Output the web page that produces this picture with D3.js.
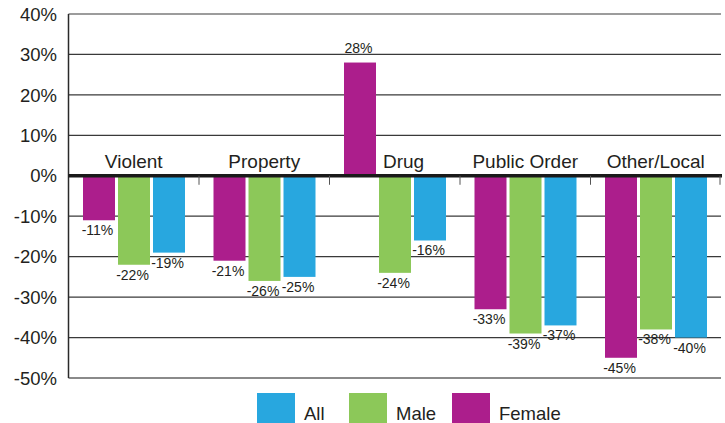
<!DOCTYPE html>
<html>
<head>
<meta charset="utf-8">
<script src="https://cdn.jsdelivr.net/npm/d3@7"></script>
<style>
  body { margin: 0; background: #fff; }
  text { font-family: "Liberation Sans", Arial, sans-serif; fill: #231f20; }
</style>
</head>
<body>
<div id="chart"></div>
<script>
const categories = ['Violent', 'Property', 'Drug', 'Public Order', 'Other/Local'];
const seriesNames = ['Female', 'Male', 'All'];
const female = [-11, -21, 28, -33, -45];
const male = [-22, -26, -24, -39, -38];
const all = [-19, -25, -16, -37, -40];
const yTicks = [40, 30, 20, 10, 0, -10, -20, -30, -40, -50];
const legendOrder = ['All', 'Male', 'Female'];

const colors = { Female: '#ac1e8c', Male: '#8cc859', All: '#28a7df' };
const values = { Female: female, Male: male, All: all };

const width = 725, height = 423;
const margin = { left: 68.5, right: 4, top: 14, bottom: 45 };

const svg = d3.select('#chart')
  .append('svg')
  .attr('width', width)
  .attr('height', height);

const y = d3.scaleLinear()
  .domain([-50, 40])
  .range([height - margin.bottom, margin.top]);

const x0 = d3.scaleBand()
  .domain(categories)
  .range([margin.left, width - margin.right])
  .padding(0);

// bars sit inside each category band with ~14px either side
const x1 = d3.scaleBand()
  .domain(seriesNames)
  .range([14.5, x0.bandwidth() - 14])
  .paddingInner(3 / 35);

// gridlines
svg.append('g')
  .selectAll('line')
  .data(yTicks.filter(d => d !== 0))
  .enter()
  .append('line')
  .attr('x1', margin.left)
  .attr('x2', width - margin.right)
  .attr('y1', d => y(d))
  .attr('y2', d => y(d))
  .attr('stroke', d => d === -50 ? '#8a8a8a' : '#3a3a3a')
  .attr('stroke-width', d => d === -50 ? 2 : 1.2);

// y axis line
svg.append('line')
  .attr('x1', margin.left)
  .attr('x2', margin.left)
  .attr('y1', y(40))
  .attr('y2', y(-50))
  .attr('stroke', '#2a2a2a')
  .attr('stroke-width', 1.5);

// tick labels
svg.append('g')
  .selectAll('text')
  .data(yTicks)
  .enter()
  .append('text')
  .attr('x', 57)
  .attr('y', d => y(d))
  .attr('dy', '0.36em')
  .attr('text-anchor', 'end')
  .style('font-size', '18.5px')
  .text(d => d + '%');

// bars
const groups = svg.append('g')
  .selectAll('g')
  .data(categories)
  .enter()
  .append('g')
  .attr('transform', d => `translate(${x0(d)},0)`);

groups.selectAll('rect')
  .data((c, ci) => seriesNames.map(s => ({ series: s, value: values[s][ci] })))
  .enter()
  .append('rect')
  .attr('x', d => x1(d.series))
  .attr('width', x1.bandwidth())
  .attr('y', d => y(Math.max(0, d.value)))
  .attr('height', d => Math.abs(y(d.value) - y(0)))
  .attr('fill', d => colors[d.series]);

groups.selectAll('text.val')
  .data((c, ci) => seriesNames.map(s => ({ series: s, value: values[s][ci] })))
  .enter()
  .append('text')
  .attr('class', 'val')
  .attr('x', d => x1(d.series) + x1.bandwidth() / 2 - 1.5)
  .attr('y', d => d.value < 0 ? y(d.value) + 15 : y(d.value) - 10)
  .attr('text-anchor', 'middle')
  .style('font-size', '14px')
  .text(d => d.value + '%');

// zero line
svg.append('line')
  .attr('x1', margin.left)
  .attr('x2', width - margin.right + 1)
  .attr('y1', y(0))
  .attr('y2', y(0))
  .attr('stroke', '#1a1a1a')
  .attr('stroke-width', 3.5);

// category boundary ticks
svg.append('g')
  .selectAll('line')
  .data(categories.slice(1).concat(['end']))
  .enter()
  .append('line')
  .attr('x1', d => d === 'end' ? width - margin.right - 1 : x0(d))
  .attr('x2', d => d === 'end' ? width - margin.right - 1 : x0(d))
  .attr('y1', y(0))
  .attr('y2', y(0) + 9)
  .attr('stroke', '#555')
  .attr('stroke-width', 1);

// category labels above zero line; shift right if a positive bar is in the way
groups.append('text')
  .attr('x', (c, ci) => {
    const pos = seriesNames.filter(s => values[s][ci] > 0);
    if (pos.length) return x1(pos[pos.length - 1]) + x1.bandwidth() + 7;
    return x0.bandwidth() / 2;
  })
  .attr('text-anchor', (c, ci) => seriesNames.some(s => values[s][ci] > 0) ? 'start' : 'middle')
  .attr('y', y(0) - 8)
  .style('font-size', '19px')
  .text(d => d);

// legend
const legend = svg.append('g')
  .attr('transform', 'translate(257,393)');

const legendX = [0, 92, 195];
const item = legend.selectAll('g')
  .data(legendOrder)
  .enter()
  .append('g')
  .attr('transform', (d, i) => `translate(${legendX[i]},0)`);

item.append('rect')
  .attr('width', 38)
  .attr('height', 30)
  .attr('fill', d => colors[d]);

item.append('text')
  .attr('x', 47)
  .attr('y', 27)
  .style('font-size', '18.5px')
  .text(d => d);
</script>
</body>
</html>
